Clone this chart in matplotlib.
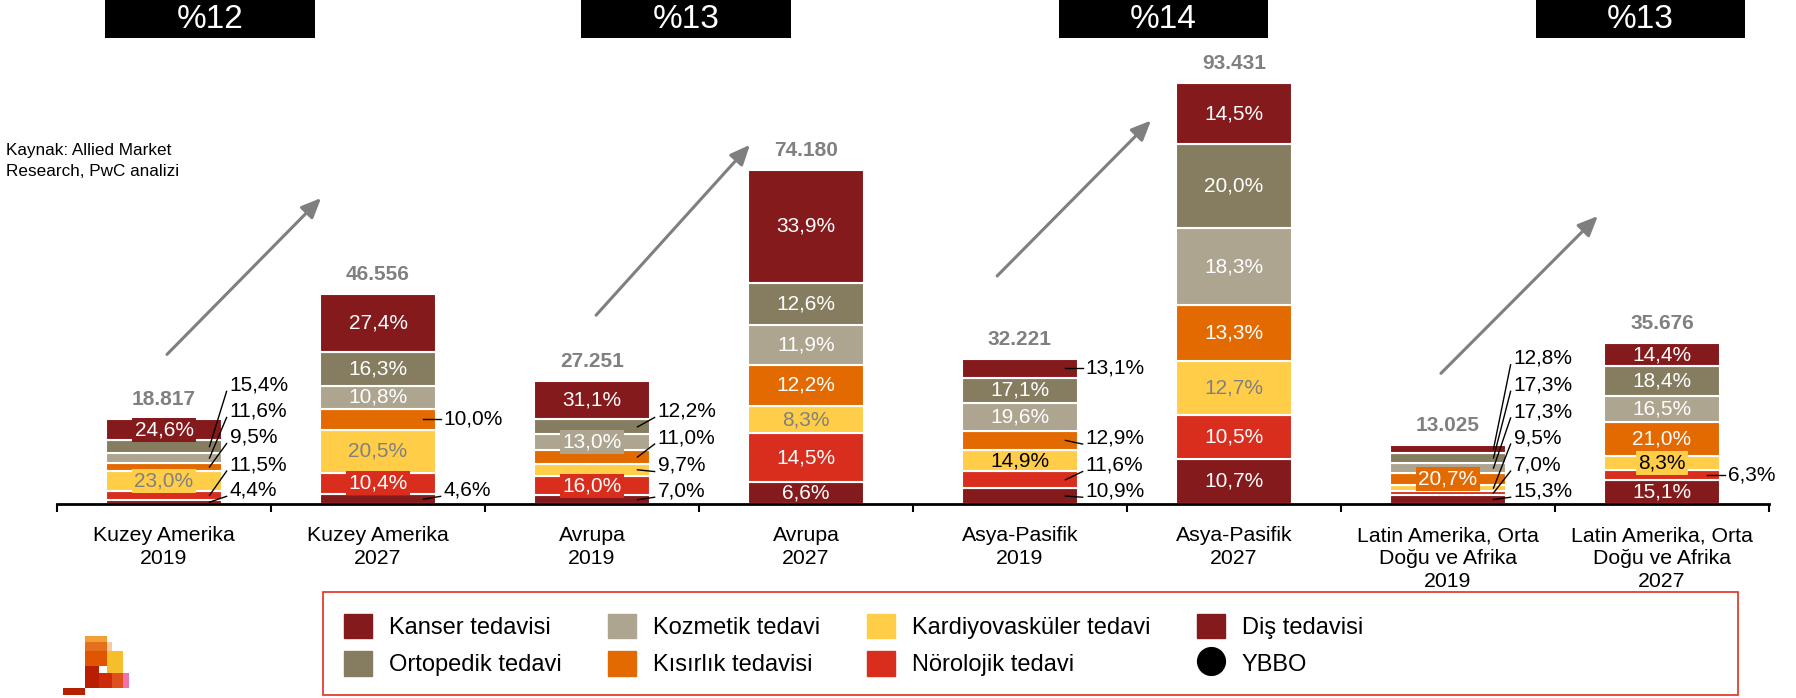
import numpy as np
import matplotlib
matplotlib.use("Agg")
import matplotlib.pyplot as plt
from matplotlib.patches import Rectangle, Patch
from matplotlib.lines import Line2D

# ---- data ----
categories = ["Kuzey Amerika\n2019", "Kuzey Amerika\n2027", "Avrupa\n2019", "Avrupa\n2027",
              "Asya-Pasifik\n2019", "Asya-Pasifik\n2027",
              "Latin Amerika, Orta\nDoğu ve Afrika\n2019", "Latin Amerika, Orta\nDoğu ve Afrika\n2027"]
totals = [18.817, 46.556, 27.251, 74.180, 32.221, 93.431, 13.025, 35.676]
cagr = ["%12", "%13", "%14", "%13"]

# segment shares (%), bottom to top
dis = [4.4, 4.6, 7.0, 6.6, 10.9, 10.7, 15.3, 15.1]
noro = [11.5, 10.4, 16.0, 14.5, 11.6, 10.5, 7.0, 6.3]
kardiyo = [23.0, 20.5, 9.7, 8.3, 14.9, 12.7, 9.5, 8.3]
kisir = [9.5, 10.0, 11.0, 12.2, 12.9, 13.3, 20.7, 21.0]
kozmetik = [11.6, 10.8, 13.0, 11.9, 19.6, 18.3, 17.3, 16.5]
ortopedik = [15.4, 16.3, 12.2, 12.6, 17.1, 20.0, 17.3, 18.4]
kanser = [24.6, 27.4, 31.1, 33.9, 13.1, 14.5, 12.8, 14.4]

series = [("Diş tedavisi", dis), ("Nörolojik tedavi", noro), ("Kardiyovasküler tedavi", kardiyo),
          ("Kısırlık tedavisi", kisir), ("Kozmetik tedavi", kozmetik), ("Ortopedik tedavi", ortopedik),
          ("Kanser tedavisi", kanser)]

colors = {"Kanser tedavisi": "#841A1C", "Diş tedavisi": "#841A1C", "Ortopedik tedavi": "#867D60",
          "Kozmetik tedavi": "#ADA590", "Kardiyovasküler tedavi": "#FFCD48",
          "Kısırlık tedavisi": "#E36A00", "Nörolojik tedavi": "#D92E1E"}

plt.rcParams["font.family"] = ["Liberation Sans", "DejaVu Sans"]

# label layout: text y of outside labels (None = level with segment)
outside = {
    0: {"Ortopedik tedavi": 26.4, "Kozmetik tedavi": 20.6, "Kısırlık tedavisi": 14.8,
        "Nörolojik tedavi": 8.7, "Diş tedavisi": 3.1},
    1: {"Kısırlık tedavisi": None, "Diş tedavisi": 3.1},
    2: {"Ortopedik tedavi": 20.6, "Kısırlık tedavisi": 14.7, "Kardiyovasküler tedavi": 8.6,
        "Diş tedavisi": 2.9},
    4: {"Kanser tedavisi": None, "Kısırlık tedavisi": 14.7, "Nörolojik tedavi": 8.6,
        "Diş tedavisi": 2.9},
    6: {"Kanser tedavisi": 32.3, "Ortopedik tedavi": 26.4, "Kozmetik tedavi": 20.5,
        "Kardiyovasküler tedavi": 14.7, "Nörolojik tedavi": 8.7, "Diş tedavisi": 2.9},
    7: {"Nörolojik tedavi": None},
}
boxed = {(0, "Kanser tedavisi"), (0, "Kardiyovasküler tedavi"), (1, "Nörolojik tedavi"),
         (2, "Kozmetik tedavi"), (2, "Nörolojik tedavi"), (6, "Kısırlık tedavisi"),
         (7, "Kardiyovasküler tedavi")}
grey_txt = {(0, "Kardiyovasküler tedavi"), (1, "Kardiyovasküler tedavi"),
            (3, "Kardiyovasküler tedavi"), (5, "Kardiyovasküler tedavi")}
black_txt = {(4, "Kardiyovasküler tedavi"), (7, "Kardiyovasküler tedavi")}

fig = plt.figure(figsize=(17.96, 6.98), dpi=100)
ax = fig.add_axes([57 / 1796, 194 / 698, 1712 / 1796, 504 / 698])
ax.set_xlim(-0.5, 7.5)
ax.set_ylim(0, 111.85)

x = np.arange(len(categories))
W = 0.545
shares = np.array([s for _, s in series])
heights = shares / shares.sum(axis=0) * np.array(totals)
bottoms = np.vstack([np.zeros(len(x)), np.cumsum(heights, axis=0)[:-1]])

for i, (name, vals) in enumerate(series):
    ax.bar(x, heights[i], bottom=bottoms[i], width=W, color=colors[name],
           edgecolor="white", linewidth=1.5, zorder=2)

for i, (name, vals) in enumerate(series):
    for j in range(len(x)):
        txt = f"{vals[j]:.1f}%".replace(".", ",")
        mid = bottoms[i, j] + heights[i, j] / 2
        if name in outside.get(j, {}):
            ty = outside[j][name]
            edge = x[j] + W / 2
            if ty is None:
                ty = mid
                ly = mid
            else:
                ly = ty - 1.4
            ax.plot([edge - 0.06, edge + 0.02], [mid, ly], color="black", lw=1, zorder=4)
            ax.text(edge + 0.035, ty, txt, ha="left", va="center", fontsize=15, color="black")
        else:
            c = "white"
            if (j, name) in grey_txt:
                c = "#808080"
            elif (j, name) in black_txt:
                c = "black"
            bb = None
            if (j, name) in boxed:
                bb = dict(boxstyle="square,pad=0.12", fc=colors[name], ec="none")
            ax.text(x[j], mid, txt, ha="center", va="center", fontsize=15, color=c,
                    bbox=bb, zorder=3)

for j, t in enumerate(totals):
    ax.annotate(f"{t:.3f}", (x[j], t), xytext=(0, 14), textcoords="offset points",
                ha="center", va="center", fontsize=15, fontweight="bold", color="#808080")

# axis
for s in ["left", "right", "top"]:
    ax.spines[s].set_visible(False)
ax.spines["bottom"].set_linewidth(2)
ax.set_yticks([])
ax.set_xticks(x, categories, fontsize=15.3, linespacing=1.27)
ax.tick_params(axis="x", length=0, pad=16)
ax.set_xticks(np.arange(-0.5, 8, 1), minor=True)
ax.tick_params(axis="x", which="minor", length=6, width=1.5)

# growth arrows and CAGR boxes
arrows = [((0.014, 33.2), (0.734, 67.9)), ((2.019, 41.9), (2.738, 79.7)),
          ((3.893, 50.6), (4.612, 85.1)), ((5.967, 29.0), (6.70, 63.9))]
for (s, e) in arrows:
    ax.annotate("", xy=e, xytext=s, annotation_clip=False,
                arrowprops=dict(arrowstyle="-|>,head_length=0.8,head_width=0.35", color="#7f7f7f",
                                lw=2.2, mutation_scale=15, shrinkA=0, shrinkB=0))
box_x = [0.215, 2.44, 4.67, 6.90]
for cx, lab in zip(box_x, cagr):
    ax.add_patch(Rectangle((cx - 0.49, 103.4), 0.98, 8.45, fc="black", ec="none", clip_on=False))
    ax.text(cx, 107.6, lab, ha="center", va="center", color="white", fontsize=24)

fig.text(6 / 1796, 1 - 161 / 698, "Kaynak: Allied Market\nResearch, PwC analizi", ha="left",
         va="center", fontsize=12.3, linespacing=1.5)

# legend
order = ["Kanser tedavisi", "Ortopedik tedavi", "Kozmetik tedavi", "Kısırlık tedavisi",
         "Kardiyovasküler tedavi", "Nörolojik tedavi", "Diş tedavisi"]
handles = [Patch(color=colors[n]) for n in order]
handles.append(Line2D([], [], marker="o", color="black", linestyle="none", markersize=20))
labels = order + ["YBBO"]
fig.legend(handles, labels, ncol=4, loc="upper left", bbox_to_anchor=(344 / 1796, 1 - 614 / 698),
           frameon=False, prop=dict(size=17), handlelength=1.2, handleheight=1.2,
           handletextpad=0.72, columnspacing=1.95, labelspacing=0.52, borderpad=0, borderaxespad=0)
fig.add_artist(Rectangle((323 / 1796, 3 / 698), (1738 - 323) / 1796, (695 - 592) / 698,
                         transform=fig.transFigure, fill=False, ec="#E0301E", lw=1.2))


# PwC logo blocks (pixel coords)
def px_rect(x0, y0, x1, y1, c):
    fig.add_artist(Rectangle((x0 / 1796, 1 - y1 / 698), (x1 - x0) / 1796, (y1 - y0) / 698,
                             transform=fig.transFigure, fc=c, ec="none"))


px_rect(63, 688, 85, 695, "#B42100")
px_rect(85, 636, 107, 643, "#F0A035")
px_rect(85, 642, 107, 651, "#E4701E")
px_rect(107, 642, 112, 651, "#F6C9A0")
px_rect(85, 651, 107, 666, "#E05500")
px_rect(107, 651, 123, 688, "#F5BE2A")
px_rect(85, 666, 99, 688, "#B81E00")
px_rect(99, 673, 112, 688, "#CC2A08")
px_rect(112, 673, 123, 688, "#E0501E")
px_rect(123, 673, 129, 688, "#EC74A8")

fig.savefig("out.png", dpi=100)
